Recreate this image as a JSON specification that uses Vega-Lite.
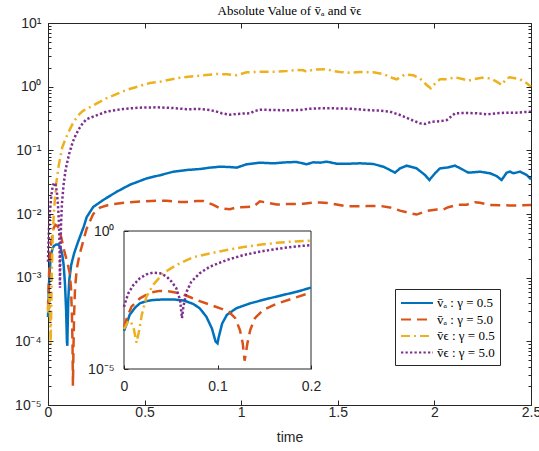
{
"$schema":"https://vega.github.io/schema/vega-lite/v6.json",
"width":483,"height":382,
"autosize":{"type":"none"},
"padding":{"left":48,"top":23,"right":8,"bottom":46},
"title":{"text":"Absolute Value of v̄ₐ and v̄ϵ","font":"Liberation Serif","fontSize":13,"fontWeight":"normal","color":"black","baseline":"alphabetic","offset":-12,"anchor":"middle","frame":"group"},
"config":{
"view":{"stroke":"#262626","strokeWidth":1},
"axis":{"grid":false,"domain":false,"labelFlush":false,"labelOverlap":false,"labelFont":"Liberation Sans","labelFontSize":14,"labelColor":"#262626","tickColor":"#262626","tickWidth":1,"titleFont":"Liberation Sans","titleFontSize":14,"titleFontWeight":"normal","titleColor":"#262626"}
},
"datasets":{"curves":[
{"s":"a05","t":0,"v":0.00024},{"s":"a05","t":0.003,"v":0.000447},{"s":"a05","t":0.006,"v":0.000912},{"s":"a05","t":0.012,"v":0.0017},{"s":"a05","t":0.017,"v":0.0024},{"s":"a05","t":0.024,"v":0.00288},{"s":"a05","t":0.031,"v":0.00316},{"s":"a05","t":0.042,"v":0.00331},{"s":"a05","t":0.053,"v":0.00331},{"s":"a05","t":0.064,"v":0.00302},{"s":"a05","t":0.074,"v":0.00229},{"s":"a05","t":0.081,"v":0.00158},{"s":"a05","t":0.088,"v":0.000794},{"s":"a05","t":0.094,"v":0.000295},{"s":"a05","t":0.098,"v":0.0000977},{"s":"a05","t":0.1,"v":0.0000851},{"s":"a05","t":0.101,"v":0.000129},{"s":"a05","t":0.105,"v":0.000447},{"s":"a05","t":0.11,"v":0.000912},{"s":"a05","t":0.12,"v":0.00158},{"s":"a05","t":0.135,"v":0.0024},{"s":"a05","t":0.153,"v":0.00347},{"s":"a05","t":0.17,"v":0.00479},{"s":"a05","t":0.185,"v":0.00631},{"s":"a05","t":0.2,"v":0.00891},{"s":"a05","t":0.234,"v":0.0129},{"s":"a05","t":0.286,"v":0.0166},{"s":"a05","t":0.356,"v":0.0224},{"s":"a05","t":0.424,"v":0.0288},{"s":"a05","t":0.511,"v":0.0363},{"s":"a05","t":0.58,"v":0.0407},{"s":"a05","t":0.649,"v":0.0462},{"s":"a05","t":0.718,"v":0.0491},{"s":"a05","t":0.787,"v":0.0509},{"s":"a05","t":0.839,"v":0.0535},{"s":"a05","t":0.89,"v":0.0553},{"s":"a05","t":0.942,"v":0.0547},{"s":"a05","t":0.977,"v":0.0535},{"s":"a05","t":1.028,"v":0.0604},{"s":"a05","t":1.097,"v":0.064},{"s":"a05","t":1.166,"v":0.0625},{"s":"a05","t":1.236,"v":0.0649},{"s":"a05","t":1.287,"v":0.0656},{"s":"a05","t":1.339,"v":0.0604},{"s":"a05","t":1.373,"v":0.0649},{"s":"a05","t":1.408,"v":0.064},{"s":"a05","t":1.442,"v":0.0664},{"s":"a05","t":1.494,"v":0.0617},{"s":"a05","t":1.563,"v":0.0617},{"s":"a05","t":1.615,"v":0.0625},{"s":"a05","t":1.684,"v":0.061},{"s":"a05","t":1.736,"v":0.0553},{"s":"a05","t":1.77,"v":0.0491},{"s":"a05","t":1.796,"v":0.0446},{"s":"a05","t":1.822,"v":0.0521},{"s":"a05","t":1.857,"v":0.0574},{"s":"a05","t":1.908,"v":0.0521},{"s":"a05","t":1.951,"v":0.041},{"s":"a05","t":1.974,"v":0.0342},{"s":"a05","t":2.003,"v":0.0436},{"s":"a05","t":2.029,"v":0.0521},{"s":"a05","t":2.064,"v":0.0535},{"s":"a05","t":2.107,"v":0.0574},{"s":"a05","t":2.141,"v":0.0509},{"s":"a05","t":2.175,"v":0.0446},{"s":"a05","t":2.201,"v":0.0452},{"s":"a05","t":2.236,"v":0.0462},{"s":"a05","t":2.288,"v":0.0436},{"s":"a05","t":2.322,"v":0.0395},{"s":"a05","t":2.348,"v":0.0342},{"s":"a05","t":2.374,"v":0.0446},{"s":"a05","t":2.391,"v":0.0462},{"s":"a05","t":2.409,"v":0.0436},{"s":"a05","t":2.443,"v":0.0462},{"s":"a05","t":2.478,"v":0.041},{"s":"a05","t":2.5,"v":0.0351},
{"s":"a50","t":0,"v":0.000316},{"s":"a50","t":0.003,"v":0.000692},{"s":"a50","t":0.008,"v":0.00182},{"s":"a50","t":0.017,"v":0.00363},{"s":"a50","t":0.028,"v":0.00589},{"s":"a50","t":0.038,"v":0.00676},{"s":"a50","t":0.049,"v":0.00646},{"s":"a50","t":0.06,"v":0.0055},{"s":"a50","t":0.071,"v":0.00398},{"s":"a50","t":0.081,"v":0.00288},{"s":"a50","t":0.092,"v":0.00214},{"s":"a50","t":0.103,"v":0.00158},{"s":"a50","t":0.112,"v":0.0012},{"s":"a50","t":0.119,"v":0.000692},{"s":"a50","t":0.124,"v":0.000257},{"s":"a50","t":0.127,"v":0.0000851},{"s":"a50","t":0.129,"v":0.00002},{"s":"a50","t":0.132,"v":0.0000851},{"s":"a50","t":0.135,"v":0.000257},{"s":"a50","t":0.14,"v":0.000692},{"s":"a50","t":0.149,"v":0.00138},{"s":"a50","t":0.163,"v":0.00229},{"s":"a50","t":0.181,"v":0.00363},{"s":"a50","t":0.2,"v":0.00589},{"s":"a50","t":0.234,"v":0.01},{"s":"a50","t":0.269,"v":0.0126},{"s":"a50","t":0.32,"v":0.0141},{"s":"a50","t":0.4,"v":0.0151},{"s":"a50","t":0.48,"v":0.0158},{"s":"a50","t":0.58,"v":0.0162},{"s":"a50","t":0.614,"v":0.0162},{"s":"a50","t":0.683,"v":0.0155},{"s":"a50","t":0.718,"v":0.0155},{"s":"a50","t":0.77,"v":0.016},{"s":"a50","t":0.804,"v":0.016},{"s":"a50","t":0.856,"v":0.0139},{"s":"a50","t":0.89,"v":0.0123},{"s":"a50","t":0.942,"v":0.0119},{"s":"a50","t":0.977,"v":0.0127},{"s":"a50","t":1.028,"v":0.0129},{"s":"a50","t":1.063,"v":0.013},{"s":"a50","t":1.097,"v":0.0158},{"s":"a50","t":1.132,"v":0.0151},{"s":"a50","t":1.184,"v":0.0141},{"s":"a50","t":1.236,"v":0.0143},{"s":"a50","t":1.287,"v":0.0143},{"s":"a50","t":1.322,"v":0.0145},{"s":"a50","t":1.373,"v":0.0151},{"s":"a50","t":1.408,"v":0.0151},{"s":"a50","t":1.46,"v":0.0148},{"s":"a50","t":1.494,"v":0.0141},{"s":"a50","t":1.546,"v":0.0132},{"s":"a50","t":1.615,"v":0.0132},{"s":"a50","t":1.65,"v":0.0133},{"s":"a50","t":1.718,"v":0.0134},{"s":"a50","t":1.77,"v":0.0127},{"s":"a50","t":1.822,"v":0.0113},{"s":"a50","t":1.874,"v":0.0103},{"s":"a50","t":1.908,"v":0.0098},{"s":"a50","t":1.96,"v":0.0112},{"s":"a50","t":2.012,"v":0.0118},{"s":"a50","t":2.046,"v":0.0118},{"s":"a50","t":2.072,"v":0.0128},{"s":"a50","t":2.124,"v":0.014},{"s":"a50","t":2.167,"v":0.014},{"s":"a50","t":2.21,"v":0.0153},{"s":"a50","t":2.236,"v":0.015},{"s":"a50","t":2.288,"v":0.0139},{"s":"a50","t":2.34,"v":0.0137},{"s":"a50","t":2.426,"v":0.0136},{"s":"a50","t":2.5,"v":0.0138},
{"s":"e05","t":0,"v":0.000282},{"s":"e05","t":0.004,"v":0.000501},{"s":"e05","t":0.007,"v":0.000562},{"s":"e05","t":0.0105,"v":0.000282},{"s":"e05","t":0.0135,"v":0.0000891},{"s":"e05","t":0.0165,"v":0.000282},{"s":"e05","t":0.019,"v":0.000912},{"s":"e05","t":0.024,"v":0.00417},{"s":"e05","t":0.031,"v":0.011},{"s":"e05","t":0.042,"v":0.0295},{"s":"e05","t":0.056,"v":0.0589},{"s":"e05","t":0.074,"v":0.112},{"s":"e05","t":0.092,"v":0.155},{"s":"e05","t":0.11,"v":0.204},{"s":"e05","t":0.128,"v":0.263},{"s":"e05","t":0.145,"v":0.316},{"s":"e05","t":0.163,"v":0.372},{"s":"e05","t":0.181,"v":0.417},{"s":"e05","t":0.2,"v":0.447},{"s":"e05","t":0.304,"v":0.661},{"s":"e05","t":0.407,"v":0.891},{"s":"e05","t":0.528,"v":1.143},{"s":"e05","t":0.58,"v":1.197},{"s":"e05","t":0.683,"v":1.384},{"s":"e05","t":0.804,"v":1.51},{"s":"e05","t":0.873,"v":1.581},{"s":"e05","t":0.925,"v":1.563},{"s":"e05","t":0.977,"v":1.51},{"s":"e05","t":1.028,"v":1.683},{"s":"e05","t":1.097,"v":1.718},{"s":"e05","t":1.166,"v":1.718},{"s":"e05","t":1.236,"v":1.762},{"s":"e05","t":1.287,"v":1.828},{"s":"e05","t":1.322,"v":1.807},{"s":"e05","t":1.339,"v":1.718},{"s":"e05","t":1.373,"v":1.849},{"s":"e05","t":1.442,"v":1.875},{"s":"e05","t":1.477,"v":1.762},{"s":"e05","t":1.511,"v":1.706},{"s":"e05","t":1.563,"v":1.656},{"s":"e05","t":1.615,"v":1.698},{"s":"e05","t":1.684,"v":1.683},{"s":"e05","t":1.736,"v":1.581},{"s":"e05","t":1.787,"v":1.352},{"s":"e05","t":1.805,"v":1.306},{"s":"e05","t":1.848,"v":1.563},{"s":"e05","t":1.891,"v":1.51},{"s":"e05","t":1.925,"v":1.352},{"s":"e05","t":1.96,"v":1.062},{"s":"e05","t":1.981,"v":0.942},{"s":"e05","t":2.012,"v":1.197},{"s":"e05","t":2.029,"v":1.306},{"s":"e05","t":2.064,"v":1.306},{"s":"e05","t":2.107,"v":1.403},{"s":"e05","t":2.15,"v":1.306},{"s":"e05","t":2.175,"v":1.242},{"s":"e05","t":2.201,"v":1.306},{"s":"e05","t":2.245,"v":1.384},{"s":"e05","t":2.288,"v":1.352},{"s":"e05","t":2.322,"v":1.197},{"s":"e05","t":2.348,"v":1.062},{"s":"e05","t":2.374,"v":1.352},{"s":"e05","t":2.391,"v":1.403},{"s":"e05","t":2.443,"v":1.306},{"s":"e05","t":2.478,"v":1.13},{"s":"e05","t":2.5,"v":1.0},
{"s":"e50","t":0,"v":0.00178},{"s":"e50","t":0.001,"v":0.0024},{"s":"e50","t":0.0046,"v":0.0055},{"s":"e50","t":0.01,"v":0.011},{"s":"e50","t":0.017,"v":0.0195},{"s":"e50","t":0.024,"v":0.0269},{"s":"e50","t":0.031,"v":0.0309},{"s":"e50","t":0.0385,"v":0.0295},{"s":"e50","t":0.0456,"v":0.0224},{"s":"e50","t":0.051,"v":0.0145},{"s":"e50","t":0.056,"v":0.00832},{"s":"e50","t":0.06,"v":0.00316},{"s":"e50","t":0.062,"v":0.000692},{"s":"e50","t":0.0635,"v":0.00182},{"s":"e50","t":0.067,"v":0.00631},{"s":"e50","t":0.072,"v":0.0145},{"s":"e50","t":0.081,"v":0.0295},{"s":"e50","t":0.092,"v":0.0513},{"s":"e50","t":0.11,"v":0.0891},{"s":"e50","t":0.128,"v":0.135},{"s":"e50","t":0.145,"v":0.178},{"s":"e50","t":0.163,"v":0.224},{"s":"e50","t":0.181,"v":0.269},{"s":"e50","t":0.2,"v":0.309},{"s":"e50","t":0.234,"v":0.339},{"s":"e50","t":0.304,"v":0.407},{"s":"e50","t":0.39,"v":0.447},{"s":"e50","t":0.476,"v":0.468},{"s":"e50","t":0.563,"v":0.474},{"s":"e50","t":0.649,"v":0.462},{"s":"e50","t":0.718,"v":0.442},{"s":"e50","t":0.787,"v":0.446},{"s":"e50","t":0.839,"v":0.43},{"s":"e50","t":0.873,"v":0.405},{"s":"e50","t":0.899,"v":0.382},{"s":"e50","t":0.942,"v":0.363},{"s":"e50","t":0.994,"v":0.376},{"s":"e50","t":1.046,"v":0.382},{"s":"e50","t":1.071,"v":0.415},{"s":"e50","t":1.097,"v":0.435},{"s":"e50","t":1.166,"v":0.43},{"s":"e50","t":1.236,"v":0.426},{"s":"e50","t":1.304,"v":0.43},{"s":"e50","t":1.356,"v":0.451},{"s":"e50","t":1.408,"v":0.457},{"s":"e50","t":1.477,"v":0.457},{"s":"e50","t":1.563,"v":0.451},{"s":"e50","t":1.65,"v":0.43},{"s":"e50","t":1.718,"v":0.42},{"s":"e50","t":1.77,"v":0.405},{"s":"e50","t":1.822,"v":0.359},{"s":"e50","t":1.874,"v":0.307},{"s":"e50","t":1.925,"v":0.266},{"s":"e50","t":1.951,"v":0.259},{"s":"e50","t":1.986,"v":0.282},{"s":"e50","t":2.029,"v":0.286},{"s":"e50","t":2.064,"v":0.299},{"s":"e50","t":2.107,"v":0.382},{"s":"e50","t":2.167,"v":0.386},{"s":"e50","t":2.219,"v":0.382},{"s":"e50","t":2.27,"v":0.368},{"s":"e50","t":2.322,"v":0.382},{"s":"e50","t":2.374,"v":0.391},{"s":"e50","t":2.426,"v":0.391},{"s":"e50","t":2.5,"v":0.405}
]},
"layer":[
{
"data":{"name":"curves"},
"mark":{"type":"line","strokeWidth":2.5},
"encoding":{
"x":{"field":"t","type":"quantitative","scale":{"domain":[0,2.5],"nice":false,"zero":false},"axis":{"orient":"bottom","values":[0,0.5,1,1.5,2,2.5],"format":"~g","tickSize":-5,"labelPadding":5,"title":"time","titlePadding":11,"zindex":1}},
"y":{"field":"v","type":"quantitative","scale":{"type":"log","domain":[0.00001,10],"nice":false},"axis":{"orient":"left","values":[0.00001,0.0001,0.001,0.01,0.1,1,10],"labelExpr":"datum.value > 5 ? '10¹' : datum.value > 0.5 ? '10⁰' : datum.value > 0.05 ? '10⁻¹' : datum.value > 0.005 ? '10⁻²' : datum.value > 0.0005 ? '10⁻³' : datum.value > 0.00005 ? '10⁻⁴' : '10⁻⁵'","tickSize":-5,"labelPadding":12,"title":null,"zindex":1}},
"color":{"field":"s","type":"nominal","scale":{"domain":["a05","a50","e05","e50"],"range":["#0072BD","#D95319","#EDB120","#7E2F8E"]},"legend":{"title":null,"orient":"none","legendX":347,"legendY":266,"labelExpr":"datum.value == 'a05' ? 'v̄ₐ : γ = 0.5' : datum.value == 'a50' ? 'v̄ₐ : γ = 5.0' : datum.value == 'e05' ? 'v̄ϵ : γ = 0.5' : 'v̄ϵ : γ = 5.0'","symbolType":"M-2,0H2","symbolSize":256,"symbolOffset":8,"symbolStrokeWidth":2,"labelFont":"Liberation Serif","labelFontSize":13,"labelColor":"black","strokeColor":"#262626","fillColor":"white","padding":5,"rowPadding":0.5,"labelOffset":11}},
"strokeDash":{"field":"s","type":"nominal","scale":{"domain":["a05","a50","e05","e50"],"range":[[1,0],[10,6],[9,4,2,4],[2.3,2.2]]},"legend":{"title":null,"orient":"none","legendX":347,"legendY":266,"labelExpr":"datum.value == 'a05' ? 'v̄ₐ : γ = 0.5' : datum.value == 'a50' ? 'v̄ₐ : γ = 5.0' : datum.value == 'e05' ? 'v̄ϵ : γ = 0.5' : 'v̄ϵ : γ = 5.0'","symbolType":"M-2,0H2","symbolSize":256,"symbolOffset":8,"symbolStrokeWidth":2,"labelFont":"Liberation Serif","labelFontSize":13,"labelColor":"black","strokeColor":"#262626","fillColor":"white","padding":5,"rowPadding":0.5,"labelOffset":11}}
}
},
{
"data":{"values":[{}]},
"mark":{"type":"point","opacity":0},
"encoding":{
"x":{"datum":0,"type":"quantitative","scale":{"domain":[0,2.5],"nice":false,"zero":false},"axis":{"orient":"top","values":[0,0.5,1,1.5,2,2.5],"labels":false,"tickSize":-5,"title":null,"zindex":1}},
"y":{"datum":1,"type":"quantitative","scale":{"type":"log","domain":[0.00001,10],"nice":false},"axis":{"orient":"left","values":[0.00002,0.00003,0.00004,0.00005,0.00006,0.00007,0.00008,0.00009,0.0002,0.0003,0.0004,0.0005,0.0006,0.0007,0.0008,0.0009,0.002,0.003,0.004,0.005,0.006,0.007,0.008,0.009,0.02,0.03,0.04,0.05,0.06,0.07,0.08,0.09,0.2,0.3,0.4,0.5,0.6,0.7,0.8,0.9,2,3,4,5,6,7,8,9],"labels":false,"tickSize":-3,"title":null,"zindex":1}}
}
},
{
"data":{"values":[{}]},
"mark":{"type":"point","opacity":0},
"encoding":{
"x":{"datum":0,"type":"quantitative","scale":{"domain":[0,2.5],"nice":false,"zero":false},"axis":null},
"y":{"datum":1,"type":"quantitative","scale":{"type":"log","domain":[0.00001,10],"nice":false},"axis":{"orient":"right","values":[0.00001,0.0001,0.001,0.01,0.1,1,10],"labels":false,"tickSize":-5,"title":null,"zindex":1}}
}
},
{
"data":{"values":[{}]},
"mark":{"type":"point","opacity":0},
"encoding":{
"x":{"datum":0,"type":"quantitative","scale":{"domain":[0,2.5],"nice":false,"zero":false},"axis":null},
"y":{"datum":1,"type":"quantitative","scale":{"type":"log","domain":[0.00001,10],"nice":false},"axis":{"orient":"right","values":[0.00002,0.00003,0.00004,0.00005,0.00006,0.00007,0.00008,0.00009,0.0002,0.0003,0.0004,0.0005,0.0006,0.0007,0.0008,0.0009,0.002,0.003,0.004,0.005,0.006,0.007,0.008,0.009,0.02,0.03,0.04,0.05,0.06,0.07,0.08,0.09,0.2,0.3,0.4,0.5,0.6,0.7,0.8,0.9,2,3,4,5,6,7,8,9],"labels":false,"tickSize":-3,"title":null,"zindex":1}}
}
},
{
"data":{"values":[{}]},
"mark":{"type":"rect","fill":"white","stroke":"#262626","strokeWidth":1},
"encoding":{
"x":{"datum":0,"type":"quantitative","scale":{"domain":[0,0.2],"range":[76,263],"nice":false,"zero":false},"axis":null},
"x2":{"datum":0.2},
"y":{"datum":0.00001,"type":"quantitative","scale":{"type":"log","domain":[0.00001,1],"range":[346,208],"nice":false},"axis":null},
"y2":{"datum":1}
}
},
{
"data":{"name":"curves"},
"transform":[{"filter":"datum.t <= 0.2"}],
"mark":{"type":"line","strokeWidth":2.5},
"encoding":{
"x":{"field":"t","type":"quantitative","scale":{"domain":[0,0.2],"range":[76,263],"nice":false,"zero":false},"axis":{"orient":"bottom","offset":-36,"values":[0,0.1,0.2],"format":"~g","tickSize":-4,"labelPadding":14,"title":null,"zindex":1}},
"y":{"field":"v","type":"quantitative","scale":{"type":"log","domain":[0.00001,1],"range":[346,208],"nice":false},"axis":{"orient":"left","offset":-76,"values":[0.00001,1],"labelExpr":"datum.value > 0.5 ? '10⁰' : '10⁻⁵'","tickSize":-4,"labelPadding":14,"title":null,"zindex":1}},
"color":{"field":"s","type":"nominal","scale":{"domain":["a05","a50","e05","e50"],"range":["#0072BD","#D95319","#EDB120","#7E2F8E"]},"legend":{"title":null,"orient":"none","legendX":347,"legendY":266,"labelExpr":"datum.value == 'a05' ? 'v̄ₐ : γ = 0.5' : datum.value == 'a50' ? 'v̄ₐ : γ = 5.0' : datum.value == 'e05' ? 'v̄ϵ : γ = 0.5' : 'v̄ϵ : γ = 5.0'","symbolType":"M-2,0H2","symbolSize":256,"symbolOffset":8,"symbolStrokeWidth":2,"labelFont":"Liberation Serif","labelFontSize":13,"labelColor":"black","strokeColor":"#262626","fillColor":"white","padding":5,"rowPadding":0.5,"labelOffset":11}},
"strokeDash":{"field":"s","type":"nominal","scale":{"domain":["a05","a50","e05","e50"],"range":[[1,0],[10,6],[9,4,2,4],[2.3,2.2]]},"legend":{"title":null,"orient":"none","legendX":347,"legendY":266,"labelExpr":"datum.value == 'a05' ? 'v̄ₐ : γ = 0.5' : datum.value == 'a50' ? 'v̄ₐ : γ = 5.0' : datum.value == 'e05' ? 'v̄ϵ : γ = 0.5' : 'v̄ϵ : γ = 5.0'","symbolType":"M-2,0H2","symbolSize":256,"symbolOffset":8,"symbolStrokeWidth":2,"labelFont":"Liberation Serif","labelFontSize":13,"labelColor":"black","strokeColor":"#262626","fillColor":"white","padding":5,"rowPadding":0.5,"labelOffset":11}}
}
}
],
"resolve":{"scale":{"x":"independent","y":"independent"}}
}
